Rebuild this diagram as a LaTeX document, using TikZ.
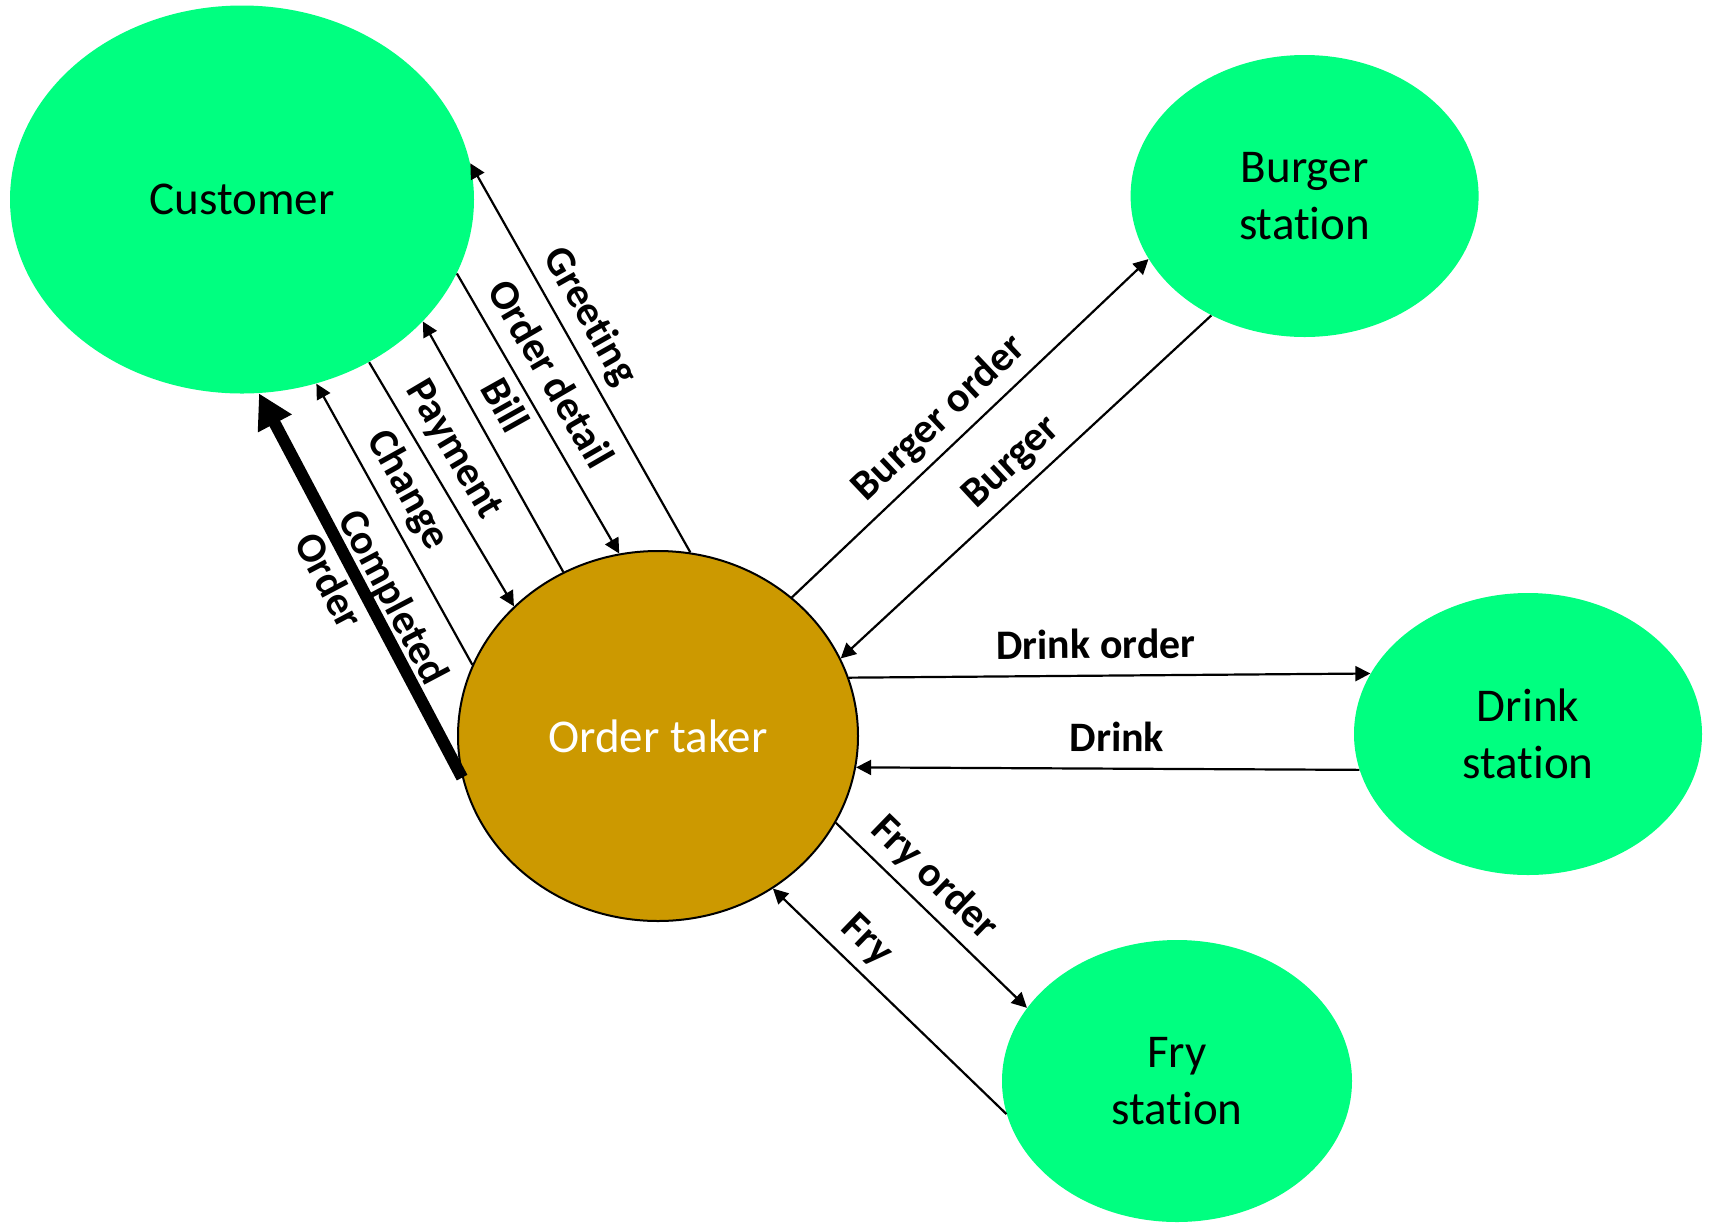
\documentclass[tikz,border=0pt]{standalone}
\usepackage{fontspec}
\setmainfont{Carlito}[Ligatures=NoCommon]
\usetikzlibrary{shapes.geometric,arrows.meta}
\definecolor{stationgreen}{RGB}{0,255,128}
\definecolor{takergold}{RGB}{204,153,0}

\begin{document}
\begin{tikzpicture}[x=0.5pt,y=-0.5pt,
  party/.style={ellipse, fill=stationgreen, inner sep=0pt, align=center,
    font=\fontsize{23.5}{28.2}\selectfont},
  flow/.style={line width=1.1pt, -{Triangle[length=7.5pt,width=7.5pt]}},
  bigflow/.style={line width=6pt, -{Triangle[length=17pt,width=18pt]}},
  lbl/.style={sloped, above=3pt, inner sep=0pt, text height=15.5pt, text depth=5pt,
    font=\fontsize{21}{25}\selectfont\bfseries}]
\useasboundingbox (0,0) rectangle (1709,1222);

% parties
\node[party, minimum width=232pt, minimum height=194pt] (cust) at (242,199.5) {Customer};
\node[party, minimum width=174pt, minimum height=141pt] (bs) at (1304.6,196) {Burger\\station};
\node[party, minimum width=174pt, minimum height=141pt] (ds) at (1528,734) {Drink\\station};
\node[party, minimum width=175pt, minimum height=141pt] (fs) at (1177,1081) {Fry\\station};
\node[ellipse, draw, line width=1pt, fill=takergold, text=white, inner sep=0pt,
  minimum width=200pt, minimum height=185pt,
  font=\fontsize{23.5}{28.2}\selectfont] (ot) at (658,736) {Order taker};

% flows between order taker and customer
\draw[flow] (ot.80) -- node[lbl, pos=0.57] {Greeting} (cust.9.3);
\draw[flow] (cust.-19) -- node[lbl, pos=0.414] {Order detail} (ot.102.6);
\draw[flow] (ot.120) -- node[lbl, pos=0.605] {Bill} (cust.-34.9);
\draw[flow] (cust.-52.1) -- node[lbl, pos=0.417] {Payment} (ot.138.8);
\draw[flow] (ot.159.8) -- node[lbl, pos=0.573] {Change} (cust.-68.7);
\draw[bigflow] (ot.-168.4) -- node[sloped, pos=0.441, align=left, inner sep=0pt,
  font=\fontsize{21}{25}\selectfont\bfseries] {Completed\\Order} (cust.-85.7);

% flows to and from the stations
\draw[flow] (ot.46.2) -- node[lbl, pos=0.468] {Burger order} (bs.-158.7);
\draw[flow] (bs.-128.5) -- node[lbl, pos=0.488] {Burger} (ot.23.3);
\draw[flow] (ot.17.5) -- node[lbl, pos=0.474] {Drink order} (ds.159);
\draw[flow] (ds.-168.3) -- node[lbl, pos=0.482] {Drink} (ot.-9.7);
\draw[flow] (ot.-26.3) -- node[lbl, pos=0.411] {Fry order} (fs.154.1);
\draw[flow] (fs.-169.8) -- node[lbl, pos=0.682] {Fry} (ot.-53.6);
\end{tikzpicture}
\end{document}
